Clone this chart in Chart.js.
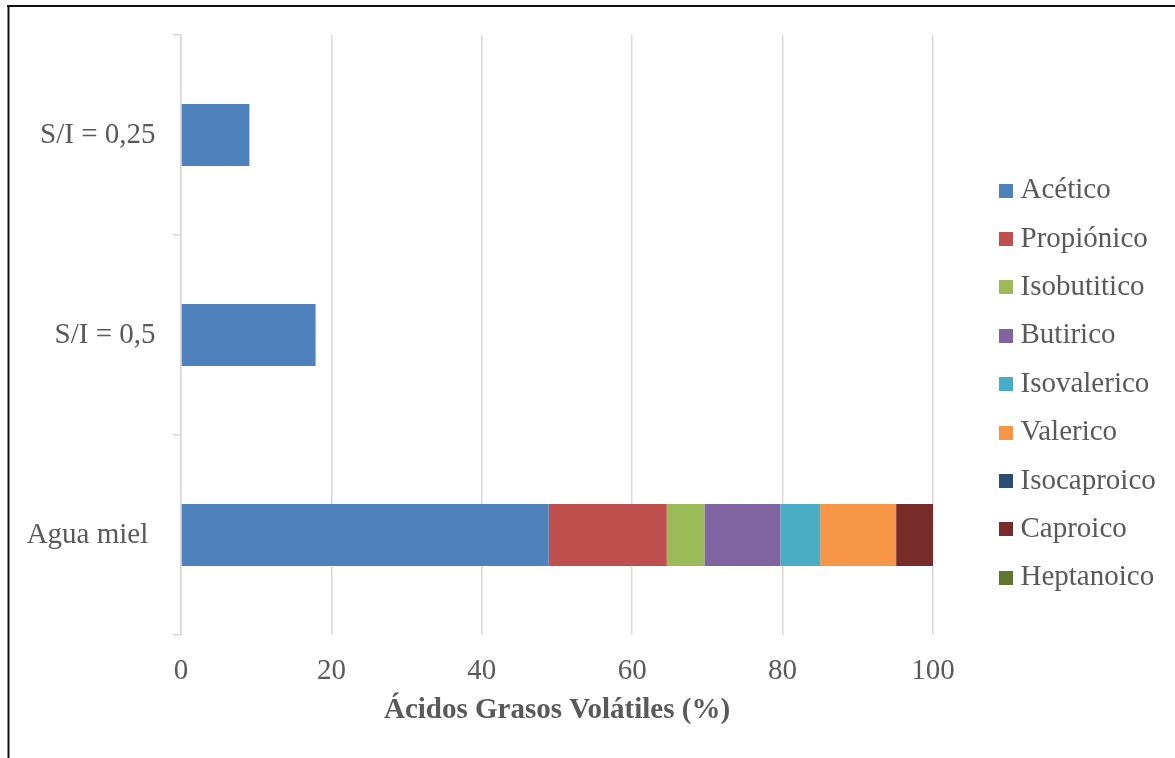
<!DOCTYPE html>
<html>
<head>
<meta charset="utf-8">
<script src="https://cdn.jsdelivr.net/npm/chart.js@4.4.1/dist/chart.umd.min.js"></script>
<style>
  html, body { margin: 0; padding: 0; background: #ffffff; }
  #wrap { position: relative; width: 1175px; height: 758px; }
</style>
</head>
<body>
<div id="wrap"><canvas id="chart" width="1175" height="758"></canvas></div>
<script>
// Categories (top to bottom) and the percentage of each volatile fatty acid
const categories = ['S/I = 0,25', 'S/I = 0,5', 'Agua miel '];
const acidNames = ['Acético', 'Propiónico', 'Isobutitico', 'Butirico', 'Isovalerico',
                   'Valerico', 'Isocaproico', 'Caproico', 'Heptanoico'];
const acetico     = [9.1, 17.9, 48.9];
const propionico  = [0, 0, 15.7];
const isobutitico = [0, 0, 5.0];
const butirico    = [0, 0, 10.1];
const isovalerico = [0, 0, 5.3];
const valerico    = [0, 0, 10.1];
const isocaproico = [0, 0, 0];
const caproico    = [0, 0, 4.9];
const heptanoico  = [0, 0, 0];
const xTicks = [0, 20, 40, 60, 80, 100];
const axisTitle = 'Ácidos Grasos Volátiles (%)';

const seriesValues = [acetico, propionico, isobutitico, butirico, isovalerico,
                      valerico, isocaproico, caproico, heptanoico];
const palette = ['#4f81bd', '#c0504d', '#9bbb59', '#8064a2', '#4bacc6',
                 '#f79646', '#2c4d75', '#772c2a', '#5f7530'];

const FONT = "'Liberation Serif', 'Times New Roman', serif";
const FONT_SIZE = 29;
const TEXT = '#595959';
const GRID = '#d9d9d9';

// legend geometry
const LEGEND_PAD = 19.4;
const LEGEND_LEFT = 985.6;
const PLOT_RIGHT = 933;

// width of the widest legend entry decides how much room the legend needs
const measure = document.createElement('canvas').getContext('2d');
measure.font = FONT_SIZE + 'px ' + FONT;
const widestLabel = Math.max(...acidNames.map(n => measure.measureText(n).width));
const legendWidth = LEGEND_PAD + 1 + FONT_SIZE / 2 + widestLabel + 10;
const rightPadding = Math.max(0, 1175 - LEGEND_LEFT - legendWidth);

// small square swatches used as legend markers
function swatch(color) {
  const c = document.createElement('canvas');
  c.width = 14; c.height = 14;
  const g = c.getContext('2d');
  g.fillStyle = color;
  g.fillRect(0, 0, 14, 14);
  return c;
}
const swatches = palette.map(swatch);

const datasets = acidNames.map((name, i) => ({
  label: name,
  data: seriesValues[i],
  backgroundColor: palette[i],
  borderWidth: 0,
  xAxisID: 'x',
  yAxisID: 'y',
  barPercentage: 0.31,
  categoryPercentage: 1.0
}));

// white background and the frame lines along the top and left edges
const framePlugin = {
  id: 'frame',
  beforeDraw(chart) {
    const ctx = chart.ctx;
    ctx.save();
    ctx.fillStyle = '#ffffff';
    ctx.fillRect(0, 0, chart.width, chart.height);
    ctx.restore();
  },
  afterDraw(chart) {
    const ctx = chart.ctx;
    ctx.save();
    ctx.strokeStyle = '#111111';
    ctx.lineWidth = 2;
    ctx.beginPath();
    ctx.moveTo(7, 6);
    ctx.lineTo(chart.width, 6);
    ctx.moveTo(8.5, 5);
    ctx.lineTo(8.5, chart.height);
    ctx.stroke();
    ctx.restore();
  }
};

new Chart(document.getElementById('chart'), {
  type: 'bar',
  data: { labels: categories, datasets },
  plugins: [framePlugin],
  options: {
    indexAxis: 'y',
    responsive: false,
    animation: false,
    devicePixelRatio: 1,
    layout: { padding: { left: 0, top: 35, right: rightPadding, bottom: 24.8 } },
    scales: {
      x: {
        type: 'linear',
        position: 'bottom',
        stacked: true,
        min: 0,
        max: 100,
        afterBuildTicks(scale) { scale.ticks = xTicks.map(v => ({ value: v })); },
        afterFit(scale) { scale.height = 98.2; },
        grid: { color: GRID, lineWidth: 1.5, drawTicks: false },
        border: { display: false },
        ticks: { font: { family: FONT, size: FONT_SIZE }, color: TEXT, padding: 18.6 },
        title: {
          display: true,
          text: axisTitle,
          font: { family: FONT, size: FONT_SIZE, weight: 'bold' },
          color: TEXT,
          padding: { top: 0, bottom: 4.8 }
        }
      },
      y: {
        type: 'category',
        position: 'left',
        stacked: true,
        afterFit(scale) { scale.width = 181; },
        grid: { display: true, drawOnChartArea: false, drawTicks: true, tickLength: 8,
                offset: true, color: GRID, lineWidth: 1.5 },
        border: { display: true, color: GRID, width: 1.5 },
        ticks: { font: { family: FONT, size: FONT_SIZE }, color: TEXT, padding: 17.5 }
      },
      gap: {
        type: 'linear',
        position: 'right',
        display: true,
        afterFit(scale) { scale.width = LEGEND_LEFT - PLOT_RIGHT; },
        grid: { display: false },
        border: { display: false },
        ticks: { display: false }
      }
    },
    plugins: {
      tooltip: { enabled: false },
      legend: {
        display: true,
        position: 'right',
        align: 'center',
        labels: {
          font: { family: FONT, size: FONT_SIZE },
          color: TEXT,
          padding: LEGEND_PAD,
          usePointStyle: true,
          pointStyleWidth: 1,
          generateLabels(chart) {
            const items = Chart.defaults.plugins.legend.labels.generateLabels(chart);
            items.forEach(it => { it.pointStyle = swatches[it.datasetIndex]; it.fontColor = TEXT; });
            return items;
          }
        }
      }
    }
  }
});
</script>
</body>
</html>
